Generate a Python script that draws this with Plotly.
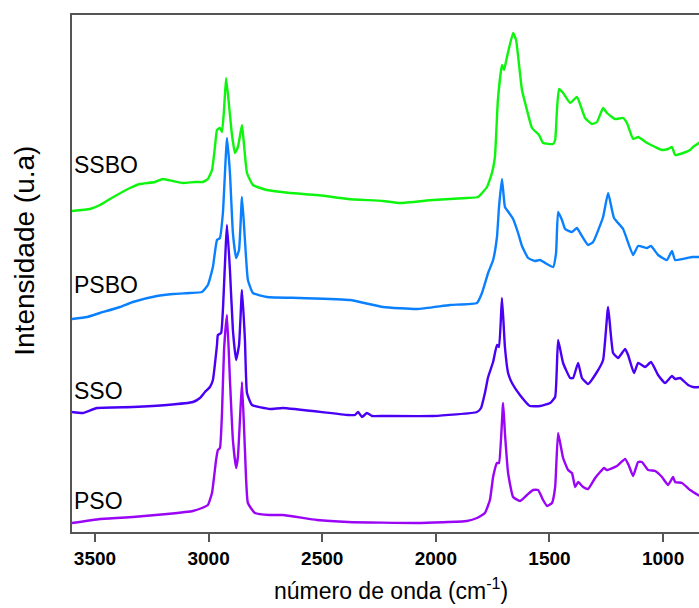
import plotly.graph_objects as go

# FTIR spectra (stacked, arbitrary intensity units)
ssbo_wn = [3601, 3522, 3478, 3434, 3346, 3302, 3236, 3201, 3157, 3113, 3060, 3025, 3003, 2985,
           2972, 2963, 2950, 2941, 2932, 2923, 2910, 2897, 2884, 2871, 2853, 2844, 2831, 2805,
           2743, 2642, 2523, 2386, 2232, 2158, 2012, 1863, 1814, 1775, 1753, 1740, 1727, 1709,
           1700, 1687, 1660, 1647, 1621, 1599, 1577, 1546, 1528, 1484, 1475, 1467, 1458, 1440,
           1409, 1379, 1343, 1313, 1291, 1264, 1247, 1211, 1176, 1159, 1132, 1110, 1070, 1035,
           1005, 978, 961, 947, 912, 881, 868, 842, 830]
ssbo_int = [321, 323, 327, 333, 344, 348, 350, 353, 351, 349, 350, 350, 353, 362,
            385, 402, 404, 400, 422, 454, 427, 397, 379, 385, 407, 387, 359, 347,
            342, 339, 337, 333, 331, 329, 332, 334, 335, 345, 359, 375, 432, 467,
            462, 475, 499, 492, 442, 422, 404, 397, 389, 388, 392, 422, 443, 439,
            429, 435, 414, 408, 410, 424, 419, 413, 414, 409, 393, 395, 389, 385,
            382, 383, 385, 377, 379, 382, 385, 389, 392]

psbo_wn = [3601, 3535, 3478, 3390, 3333, 3227, 3157, 3082, 3029, 3003, 2981, 2963, 2950, 2937,
           2919, 2906, 2893, 2879, 2866, 2853, 2840, 2827, 2805, 2743, 2598, 2378, 2232, 2083,
           1938, 1819, 1797, 1770, 1748, 1731, 1722, 1709, 1696, 1687, 1660, 1638, 1621, 1594,
           1564, 1541, 1519, 1484, 1471, 1462, 1445, 1431, 1401, 1379, 1365, 1330, 1308, 1264,
           1242, 1216, 1176, 1132, 1110, 1070, 1053, 1022, 983, 961, 947, 894, 872, 842, 830]
psbo_int = [213, 215, 219, 225, 230, 236, 238, 239, 240, 247, 265, 292, 294, 319,
            394, 359, 299, 274, 282, 335, 292, 252, 239, 235, 234, 232, 225, 223,
            227, 229, 239, 259, 272, 295, 325, 353, 325, 322, 313, 299, 286, 274,
            271, 272, 269, 265, 279, 320, 312, 303, 300, 304, 299, 287, 290, 315,
            339, 314, 303, 277, 286, 284, 286, 277, 272, 281, 272, 274, 275, 275, 276]

sso_wn = [3601, 3553, 3491, 3333, 3183, 3069, 3038, 3016, 2994, 2981, 2963, 2959, 2945, 2937,
          2919, 2906, 2893, 2879, 2866, 2853, 2840, 2831, 2809, 2730, 2673, 2386, 2356, 2342,
          2325, 2303, 2281, 2232, 2012, 1819, 1801, 1784, 1770, 1748, 1731, 1722, 1709, 1696,
          1682, 1665, 1630, 1586, 1541, 1497, 1475, 1462, 1440, 1409, 1396, 1374, 1357, 1330,
          1291, 1264, 1242, 1220, 1198, 1167, 1154, 1128, 1110, 1079, 1053, 1022, 991, 961,
          947, 925, 890, 868, 842, 830]
sso_int = [120, 119, 124, 125, 127, 130, 134, 140, 145, 152, 187, 197, 199, 222,
           307, 262, 202, 172, 187, 242, 192, 139, 127, 123, 124, 117, 117, 120,
           115, 119, 116, 116, 116, 120, 124, 139, 155, 170, 187, 185, 234, 185,
           159, 149, 137, 126, 126, 129, 135, 192, 169, 154, 154, 169, 154, 148,
           160, 172, 225, 179, 174, 183, 177, 159, 169, 165, 170, 157, 149, 156,
           153, 154, 147, 145, 145, 146]

pso_wn = [3601, 3478, 3333, 3183, 3069, 3029, 3003, 2985, 2967, 2959, 2950, 2941, 2932, 2919,
          2906, 2893, 2879, 2871, 2862, 2853, 2840, 2827, 2796, 2730, 2673, 2523, 2386, 2083,
          1863, 1819, 1784, 1762, 1748, 1731, 1722, 1704, 1696, 1682, 1660, 1630, 1599, 1572,
          1550, 1528, 1511, 1489, 1475, 1462, 1440, 1418, 1401, 1387, 1374, 1352, 1330, 1299,
          1277, 1260, 1247, 1203, 1167, 1150, 1132, 1110, 1093, 1066, 1035, 1005, 978, 956,
          947, 917, 881, 846, 830]
pso_int = [9, 13, 15, 18, 21, 24, 27, 39, 72, 82, 84, 119, 182, 217,
           152, 92, 64, 75, 112, 150, 82, 29, 19, 17, 17, 12, 10, 9,
           11, 14, 19, 32, 55, 69, 69, 129, 99, 59, 35, 31, 37, 42,
           42, 32, 26, 29, 45, 99, 74, 62, 59, 45, 50, 45, 43, 54,
           60, 64, 62, 66, 73, 66, 56, 70, 70, 62, 61, 55, 47, 55,
           50, 49, 42, 37, 35]

series_names = ["SSBO", "PSBO", "SSO", "PSO"]
series_colors = ["#0DF50D", "#0A80FF", "#4A00F5", "#9A05F5"]
label_levels = [367, 247, 141, 31]

x_ticks = [3500, 3000, 2500, 2000, 1500, 1000]

spectra = [(ssbo_wn, ssbo_int), (psbo_wn, psbo_int), (sso_wn, sso_int), (pso_wn, pso_int)]

fig = go.Figure()
for (wn, inten), name, color in zip(spectra, series_names, series_colors):
    fig.add_trace(go.Scatter(x=wn, y=inten, mode="lines", name=name,
                             line=dict(color=color, width=2.4, shape="spline", smoothing=0.4)))

annotations = []
for name, lvl in zip(series_names, label_levels):
    annotations.append(dict(x=3600, y=lvl, xref="x", yref="y", text=name, showarrow=False,
                            xanchor="left", yanchor="middle",
                            font=dict(family="Liberation Sans, Arial", size=23, color="black")))

annotations.append(dict(x=0.508, y=-0.143, xref="paper", yref="paper",
                        text="número de onda (cm<sup>-1</sup>)", showarrow=False,
                        xanchor="center", yanchor="bottom",
                        font=dict(family="Liberation Sans, Arial", size=23, color="black")))
annotations.append(dict(x=-0.077, y=0.5435, xref="paper", yref="paper",
                        text="Intensidade (u.a)", showarrow=False, textangle=-90,
                        xanchor="center", yanchor="middle",
                        font=dict(family="Liberation Sans, Arial", size=28, color="black")))

fig.update_layout(
    width=699, height=608,
    margin=dict(l=72, r=0, t=15, b=76),
    paper_bgcolor="white", plot_bgcolor="white",
    showlegend=False,
    annotations=annotations,
    xaxis=dict(range=[3601, 842], tickvals=x_ticks, ticktext=[str(t) for t in x_ticks],
               ticks="outside", ticklen=8, tickwidth=2, tickcolor="#555555",
               showline=True, linewidth=2, linecolor="#555555", mirror=True,
               showgrid=False, zeroline=False,
               tickfont=dict(family="Liberation Sans, Arial", size=19, color="black", weight="bold")),
    yaxis=dict(range=[0, 517], showticklabels=False, ticks="",
               showline=True, linewidth=2, linecolor="#555555", mirror=False,
               showgrid=False, zeroline=False),
)

fig.write_html("out.html", config={"displayModeBar": False})
